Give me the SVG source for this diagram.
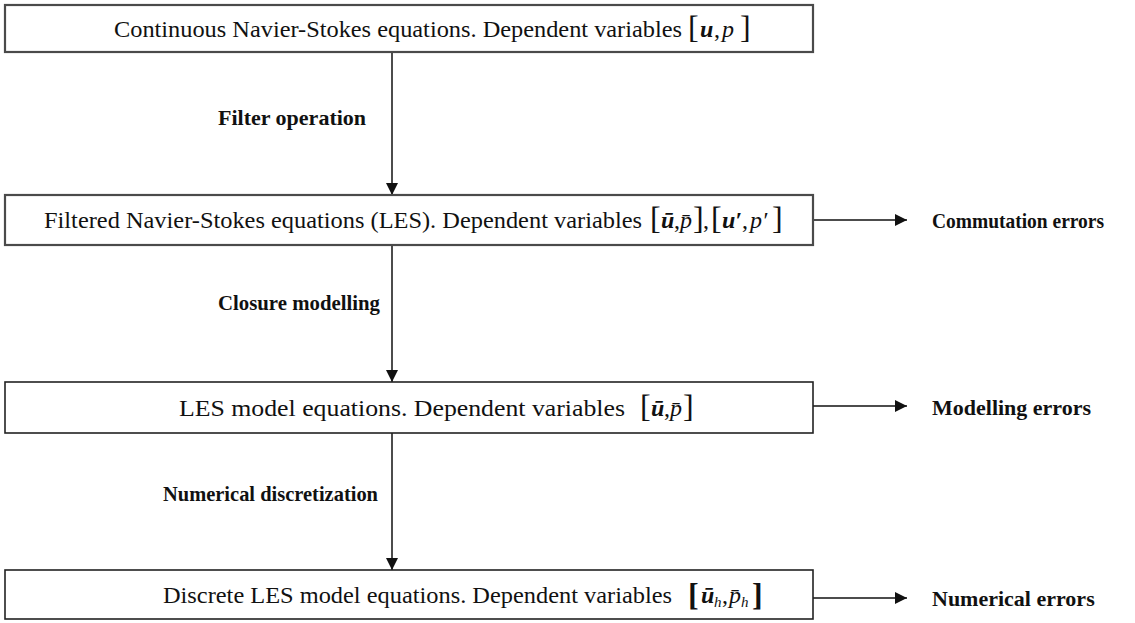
<svg xmlns="http://www.w3.org/2000/svg" width="1135" height="623" viewBox="0 0 1135 623">
<style>
  .box{fill:#fff;stroke:#4a4a4a;stroke-width:2.2}
  .box2{fill:#fff;stroke:#222;stroke-width:1.6}
  .t{font-family:"Liberation Serif","Times New Roman",serif;font-size:24px;fill:#111}
  .lbl{font-family:"Liberation Serif","Times New Roman",serif;font-size:22px;font-weight:bold;fill:#111}
  .br{font-family:"Liberation Serif","Times New Roman",serif;font-size:32px;fill:#111}
  .brb{font-family:"Liberation Serif","Times New Roman",serif;font-size:32px;font-weight:bold;fill:#111}
  .bi{font-family:"Liberation Serif","Times New Roman",serif;font-size:24px;font-weight:bold;font-style:italic;fill:#111}
  .it{font-family:"Liberation Serif","Times New Roman",serif;font-size:24px;font-style:italic;fill:#111}
  .sub{font-family:"Liberation Serif","Times New Roman",serif;font-size:15px;font-style:italic;fill:#111}
  .c{stroke:#111;stroke-width:1.5;fill:none;marker-end:url(#ah)}
</style>
<defs>
  <marker id="ah" viewBox="0 0 12 12" refX="12" refY="6" markerWidth="12" markerHeight="12" markerUnits="userSpaceOnUse" orient="auto">
    <path d="M0,0 L12,6 L0,12 Z" fill="#111"/>
  </marker>
</defs>
<rect width="1135" height="623" fill="#fff"/>

<g id="connectors">
  <line class="c" x1="392" y1="52" x2="392" y2="195"/>
  <line class="c" x1="392" y1="245" x2="392" y2="382"/>
  <line class="c" x1="392" y1="433" x2="392" y2="570"/>
  <line class="c" x1="813" y1="220" x2="907" y2="220"/>
  <line class="c" x1="813" y1="406" x2="907" y2="406"/>
  <line class="c" x1="813" y1="598" x2="907" y2="598"/>
</g>

<g id="label-filter"><text class="lbl" x="218" y="125">Filter operation</text></g>
<g id="label-closure"><text class="lbl" x="218" y="310" textLength="162" lengthAdjust="spacingAndGlyphs">Closure modelling</text></g>
<g id="label-numerical"><text class="lbl" x="163" y="501" textLength="215" lengthAdjust="spacingAndGlyphs">Numerical discretization</text></g>

<g id="node-continuous">
  <rect class="box" x="5" y="5" width="808" height="47"/>
  <text class="t" x="114" y="37" textLength="568" lengthAdjust="spacingAndGlyphs">Continuous Navier-Stokes equations. Dependent variables</text>
  <text class="br" x="688" y="38">[</text>
  <text class="bi" x="700" y="37">u</text>
  <text class="t" x="714" y="37">,</text>
  <text class="it" x="722" y="37">p</text>
  <text class="br" x="740" y="38">]</text>
</g>

<g id="node-filtered">
  <rect class="box" x="5" y="195" width="808" height="50"/>
  <text class="t" x="44" y="228" textLength="598" lengthAdjust="spacingAndGlyphs">Filtered Navier-Stokes equations (LES). Dependent variables</text>
  <text class="br" x="650" y="229">[</text>
  <text class="bi" x="661" y="228">ū</text>
  <text class="t" x="674" y="228">,</text>
  <text class="it" x="680" y="228">p̄</text>
  <text class="br" x="693" y="229">]</text>
  <text class="t" x="703" y="228">,</text>
  <text class="br" x="711" y="229">[</text>
  <text class="bi" x="722" y="228">u′</text>
  <text class="t" x="742" y="228">,</text>
  <text class="it" x="750" y="228">p′</text>
  <text class="br" x="772" y="229">]</text>
</g>
<g id="label-commutation"><text class="lbl" x="932" y="228" textLength="172" lengthAdjust="spacingAndGlyphs">Commutation errors</text></g>

<g id="node-les">
  <rect class="box2" x="5" y="382" width="808" height="51"/>
  <text class="t" x="179" y="416" textLength="446" lengthAdjust="spacingAndGlyphs">LES model equations. Dependent variables</text>
  <text class="br" x="640" y="417">[</text>
  <text class="bi" x="651" y="416">ū</text>
  <text class="t" x="664" y="416">,</text>
  <text class="it" x="670" y="416">p̄</text>
  <text class="br" x="683" y="417">]</text>
</g>
<g id="label-modelling"><text class="lbl" x="932" y="415">Modelling errors</text></g>

<g id="node-discrete">
  <rect class="box2" x="5" y="570" width="808" height="49"/>
  <text class="t" x="163" y="603" textLength="509" lengthAdjust="spacingAndGlyphs">Discrete LES model equations. Dependent variables</text>
  <text class="brb" x="688" y="605">[</text>
  <text class="bi" x="701" y="603">ū</text>
  <text class="sub" x="714" y="607">h</text>
  <text class="t" x="722" y="603">,</text>
  <text class="it" x="729" y="603">p̄</text>
  <text class="sub" x="741" y="607">h</text>
  <text class="brb" x="752" y="605">]</text>
</g>
<g id="label-numerical-errors"><text class="lbl" x="932" y="606">Numerical errors</text></g>
</svg>
